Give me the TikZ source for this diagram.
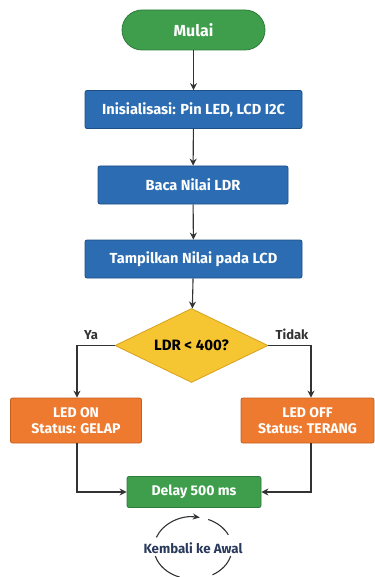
\documentclass[tikz,border=0pt]{standalone}
\usepackage{fontspec}
\setmainfont{Fira Sans}
\usetikzlibrary{shapes.geometric,arrows.meta,calc}
\definecolor{cgreen}{HTML}{3E9E4C}
\definecolor{cgreenb}{HTML}{2E7A3A}
\definecolor{cblue}{HTML}{2B6CB2}
\definecolor{cblueb}{HTML}{1E4E86}
\definecolor{corange}{HTML}{EE7A2F}
\definecolor{coranb}{HTML}{C4601E}
\definecolor{cyellow}{HTML}{F6C532}
\definecolor{cyelb}{HTML}{D6A11E}
\definecolor{cline}{HTML}{333333}
\definecolor{cnavy}{HTML}{2A3A5C}
\tikzset{
  base/.style={draw, line width=0.8pt, text=white, font=\bfseries\fontsize{14}{16}\selectfont, align=center, inner sep=0pt},
  bluebox/.style={base, fill=cblue, draw=cblueb, rounded corners=2pt, minimum height=38pt, font=\bfseries\fontsize{14.6}{16}\selectfont},
  orangebox/.style={base, fill=corange, draw=coranb, rounded corners=2pt, minimum width=131pt, minimum height=45pt},
  greenbox/.style={base, fill=cgreen, draw=cgreenb, rounded corners=2pt},
  startbox/.style={base, fill=cgreen, draw=cgreenb, rounded corners=20pt, minimum width=143pt, minimum height=40pt, font=\bfseries\fontsize{16}{18}\selectfont},
  decision/.style={base, diamond, fill=cyellow, draw=cyelb, text=black, aspect=2.1, minimum width=153pt, minimum height=74pt, font=\bfseries\fontsize{15}{17}\selectfont},
  conn/.style={draw=cline, line width=1.1pt, -{Stealth[length=7pt,width=7pt]}},
  lbl/.style={font=\bfseries\fontsize{13}{15}\selectfont, text=cline},
  looparc/.style={draw=cline, line width=1.1pt},
}
\begin{document}
\begin{tikzpicture}[x=1pt,y=-1pt]
\useasboundingbox (0,0) rectangle (374,577);
\node[startbox] (start) at (193.5,30) {Mulai};
\node[bluebox, minimum width=217pt] (init) at (193.5,109.5) {Inisialisasi: Pin LED, LCD I2C};
\node[bluebox, minimum width=190pt] (read) at (193,185) {Baca Nilai LDR};
\node[bluebox, minimum width=217pt] (show) at (193.5,259) {Tampilkan Nilai pada LCD};
\node[decision] (dec) at (191.5,345.5) {LDR < 400?};
\node[orangebox] (on) at (76,420.5) {LED ON\\Status: GELAP};
\node[orangebox, minimum width=133pt] (off) at (307.5,420.5) {LED OFF\\Status: TERANG};
\node[greenbox, minimum width=134pt, minimum height=31pt] (delay) at (194,492) {Delay 500 ms};
\coordinate (yacorner) at (77,345.5);
\coordinate (tdcorner) at (311,345.5);
\coordinate (onturn) at (77,492);
\coordinate (offturn) at (311,492);
\draw[conn] (start) -- (init);
\draw[conn] (init) -- (read);
\draw[conn] (read) -- (show);
\draw[conn] (show) -- (dec);
\draw[conn] (dec.west) -- (yacorner) -- (yacorner |- on.north);
\draw[conn] (dec.east) -- (tdcorner) -- (tdcorner |- off.north);
\draw[conn] (onturn |- on.south) -- (onturn) -- (delay.west);
\draw[conn] (offturn |- off.south) -- (offturn) -- (delay.east);
\node[lbl, anchor=south] (ya) at (91,343) {Ya};
\node[lbl, anchor=south] (tidak) at (292,343) {Tidak};
\node[font=\bfseries\fontsize{13.3}{15}\selectfont, text=cnavy] (back) at (193,548) {Kembali ke Awal};
\coordinate (cc) at (193,548);
\draw[looparc, -{Stealth[length=7pt,width=6pt]}] ($(cc)+(200:39 and 31)$) arc[start angle=200, end angle=280, x radius=39, y radius=31];
\draw[looparc] ($(cc)+(293:39 and 31)$) arc[start angle=293, end angle=335, x radius=39, y radius=31];
\draw[looparc] ($(cc)+(165:39 and 31)$) arc[start angle=165, end angle=110, x radius=39, y radius=31];
\draw[looparc] ($(cc)+(60:39 and 31)$) arc[start angle=60, end angle=15, x radius=39, y radius=31];
\end{tikzpicture}
\end{document}
